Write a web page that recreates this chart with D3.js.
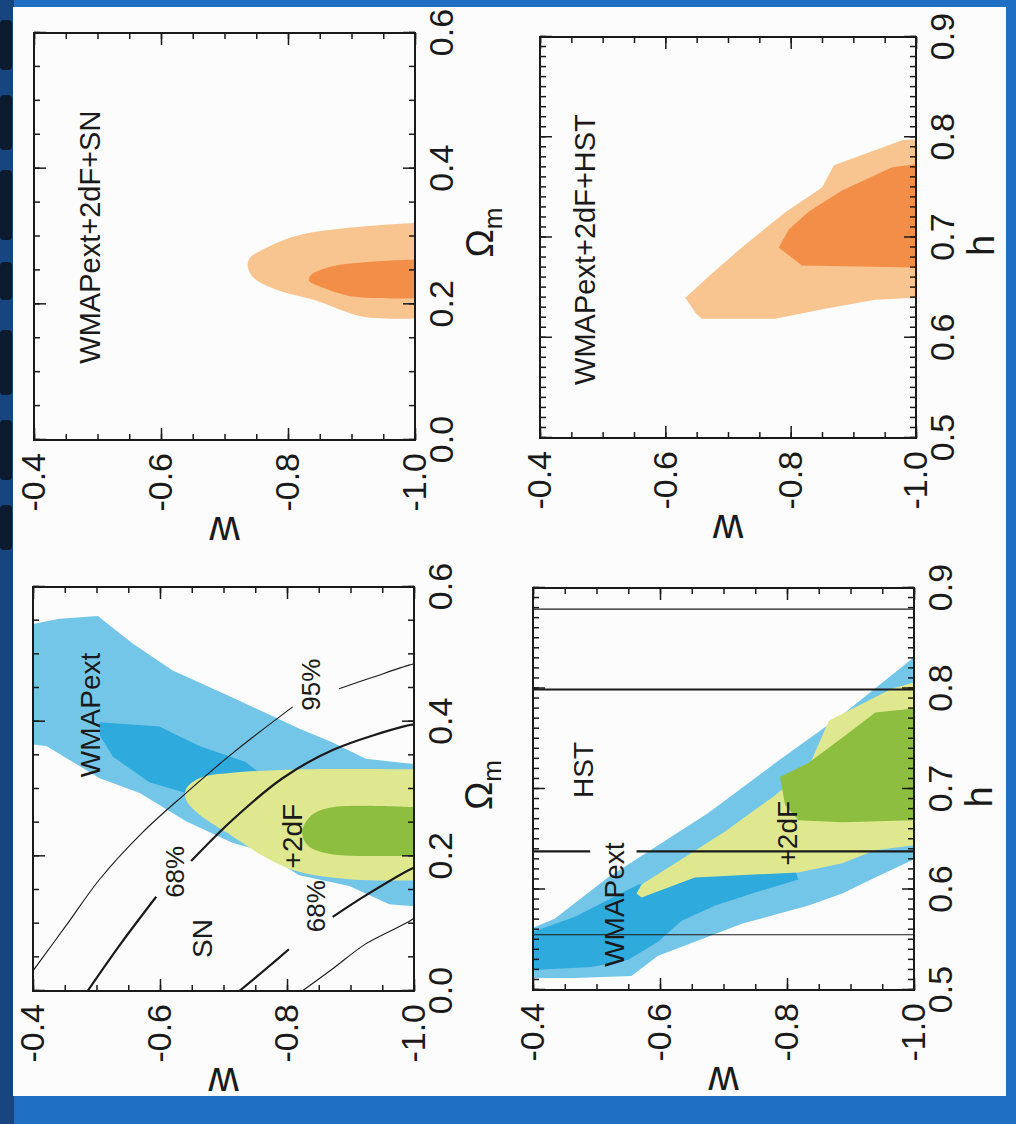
<!DOCTYPE html>
<html lang="en">
<head>
  <meta charset="UTF-8">
  <title>w constraints: WMAPext, 2dF, SN, HST</title>
  <script src="https://d3js.org/d3.v7.min.js"></script>
  <style>
    body { margin: 0; background: #ffffff; }
    svg text { font-family: "Liberation Sans", Arial, Helvetica, sans-serif; fill: #1a1a1a; }
  </style>
</head>
<body>
  <svg id="chart" width="1016" height="1124"></svg>
  <script>
    // ---- data: [x, w] with x = Omega_m or h ----
    const omAxisMajor = [0, 0.2, 0.4, 0.6];
    const hAxisMajor = [0.5, 0.6, 0.7, 0.8, 0.9];
    const wAxisMajor = [-0.4, -0.6, -0.8, -1.0];

    // WMAPext+2dF+SN (orange)
    const combSN95 = [[0.320, -1.0], [0.315, -0.922], [0.302, -0.817], [0.283, -0.765], [0.267, -0.739], [0.254, -0.737], [0.238, -0.747], [0.222, -0.781], [0.206, -0.843], [0.182, -0.917], [0.179, -1.0]];
    const combSN68 = [[0.266, -1.0], [0.262, -0.922], [0.256, -0.870], [0.243, -0.836], [0.235, -0.833], [0.225, -0.854], [0.211, -0.906], [0.209, -1.0]];

    // WMAPext+2dF+HST (orange)
    const combHST95 = [[0.798, -1.0], [0.797, -0.978], [0.772, -0.869], [0.750, -0.850], [0.725, -0.791], [0.690, -0.722], [0.661, -0.669], [0.640, -0.632], [0.625, -0.648], [0.619, -0.658], [0.619, -0.775], [0.629, -0.855], [0.638, -0.935], [0.640, -1.0]];
    const combHST68 = [[0.773, -1.0], [0.770, -0.962], [0.747, -0.882], [0.726, -0.829], [0.708, -0.797], [0.690, -0.781], [0.672, -0.818], [0.670, -1.0]];

    // WMAPext and +2dF in the Omega_m plane
    const wmapOm95 = [[0.545, -0.400], [0.553, -0.442], [0.557, -0.502], [0.516, -0.557], [0.476, -0.620], [0.436, -0.714], [0.390, -0.819], [0.369, -0.872], [0.345, -0.924], [0.337, -1.0], [0.126, -1.0], [0.129, -0.961], [0.156, -0.898], [0.172, -0.819], [0.209, -0.756], [0.220, -0.714], [0.252, -0.641], [0.294, -0.568], [0.316, -0.505], [0.364, -0.421], [0.366, -0.400]];
    const wmapOm68 = [[0.399, -0.505], [0.393, -0.599], [0.364, -0.662], [0.340, -0.735], [0.316, -0.767], [0.289, -0.714], [0.294, -0.641], [0.310, -0.583], [0.348, -0.526], [0.380, -0.505]];
    const tdfOm95 = [[0.329, -1.0], [0.329, -0.819], [0.324, -0.714], [0.316, -0.662], [0.300, -0.641], [0.284, -0.641], [0.262, -0.662], [0.230, -0.714], [0.198, -0.767], [0.177, -0.819], [0.166, -0.898], [0.164, -1.0]];
    const tdfOm68 = [[0.273, -1.0], [0.273, -0.872], [0.262, -0.840], [0.238, -0.824], [0.217, -0.832], [0.204, -0.866], [0.201, -1.0]];

    // SN contours, split where the labels sit
    const sn95UpperA = [[0.030, -0.400], [0.097, -0.452], [0.166, -0.505], [0.236, -0.573], [0.294, -0.641], [0.353, -0.714], [0.422, -0.809]];
    const sn95UpperB = [[0.449, -0.882], [0.466, -0.935], [0.484, -0.992], [0.486, -1.0]];
    const sn68UpperA = [[0.0, -0.486], [0.070, -0.538], [0.140, -0.594]];
    const sn68UpperB = [[0.193, -0.649], [0.254, -0.714], [0.316, -0.793], [0.358, -0.872], [0.393, -0.984], [0.396, -1.0]];
    const sn68LowerA = [[0.0, -0.725], [0.033, -0.767], [0.062, -0.803]];
    const sn68LowerB = [[0.110, -0.872], [0.142, -0.924], [0.182, -0.997], [0.183, -1.0]];
    const sn95Lower = [[0.0, -0.824], [0.033, -0.872], [0.070, -0.924], [0.102, -0.990], [0.108, -1.0]];

    // WMAPext and +2dF in the h plane
    const wmapH95 = [[0.562, -0.400], [0.571, -0.434], [0.612, -0.518], [0.644, -0.597], [0.676, -0.676], [0.726, -0.782], [0.774, -0.887], [0.831, -1.0], [0.630, -1.0], [0.612, -0.939], [0.596, -0.887], [0.584, -0.834], [0.566, -0.729], [0.548, -0.655], [0.534, -0.597], [0.514, -0.555], [0.512, -0.466], [0.512, -0.400]];
    const wmapH68 = [[0.558, -0.400], [0.573, -0.466], [0.605, -0.566], [0.619, -0.676], [0.619, -0.813], [0.610, -0.818], [0.598, -0.755], [0.584, -0.687], [0.569, -0.634], [0.548, -0.597], [0.530, -0.550], [0.523, -0.492], [0.520, -0.400]];
    const tdfH95 = [[0.596, -0.563], [0.605, -0.571], [0.630, -0.634], [0.658, -0.703], [0.694, -0.782], [0.722, -0.834], [0.768, -0.866], [0.783, -0.913], [0.800, -0.966], [0.806, -1.0], [0.644, -1.0], [0.639, -0.939], [0.626, -0.887], [0.617, -0.818], [0.612, -0.655], [0.592, -0.571]];
    const tdfH68 = [[0.712, -0.789], [0.726, -0.834], [0.751, -0.887], [0.776, -0.939], [0.780, -1.0], [0.669, -1.0], [0.667, -0.887], [0.669, -0.818], [0.684, -0.797]];

    // HST limits on h (68% and 95%), and the w range where the label cuts one line
    const hstLevels = [0.555, 0.638, 0.799, 0.879];
    const hstConf = ["95%", "68%", "68%", "95%"];
    const hstGap = [-0.49, -0.563];

    const colors = {
      orangeLight: "#f8c48f", orangeDark: "#f38e48",
      blueLight: "#74c6e8", blueDark: "#2eaadc",
      yellow: "#dfe88f", green: "#8dbe3f", ink: "#1a1a1a"
    };

    const svg = d3.select("#chart");

    // scanned page: blue surround, white sheet, bits of the cut-off heading on the left
    svg.append("rect").attr("width", 1016).attr("height", 1124).attr("fill", "#1f6fc4");
    svg.append("rect").attr("width", 14).attr("height", 1124).attr("fill", "#17457f");
    [[20, 70], [95, 150], [170, 240], [262, 300], [330, 395], [420, 480], [505, 550]].forEach(s => {
      svg.append("rect").attr("x", 0).attr("y", s[0]).attr("width", 12).attr("height", s[1] - s[0])
        .attr("rx", 4).attr("fill", "#0c1a30");
    });
    svg.append("rect").attr("x", 13).attr("y", 7).attr("width", 993).attr("height", 1089).attr("fill", "#fcfcfc");

    const fmt = d => d.toFixed(1);
    let clipCount = 0;

    // each panel is drawn upright and turned -90 degrees, like the scan
    function drawPanel(box, cfg) {
      const W = box.B - box.T;
      const H = box.R - box.L;
      const x = d3.scaleLinear().domain(cfg.xDomain).range([0, W]);
      const y = d3.scaleLinear().domain([-1, -0.4]).range([H, 0]);
      const g = svg.append("g").attr("transform", `translate(${box.L},${box.B}) rotate(-90)`);

      const clipId = "clip" + (clipCount++);
      g.append("clipPath").attr("id", clipId).append("rect").attr("width", W).attr("height", H);
      const plot = g.append("g").attr("clip-path", `url(#${clipId})`);

      const straight = d3.line().x(d => x(d[0])).y(d => y(d[1]));
      const smooth = d3.line().x(d => x(d[0])).y(d => y(d[1])).curve(d3.curveCatmullRom);

      cfg.areas.forEach(a => {
        plot.append("path")
          .attr("d", (a.smooth ? smooth(a.pts) : straight(a.pts)) + "Z")
          .attr("fill", a.fill);
      });

      (cfg.curves || []).forEach(c => {
        plot.append("path")
          .attr("d", smooth(c.pts))
          .attr("fill", "none")
          .attr("stroke", colors.ink)
          .attr("stroke-width", c.thick ? 2.2 : 1.1);
      });

      (cfg.hLines || []).forEach(l => {
        plot.append("line")
          .attr("x1", x(l.h)).attr("x2", x(l.h))
          .attr("y1", y(l.w0)).attr("y2", y(l.w1))
          .attr("stroke", colors.ink)
          .attr("stroke-width", l.thick ? 2.2 : 1.1);
      });

      cfg.labels.forEach(t => {
        g.append("text")
          .attr("x", x(t.at[0])).attr("y", y(t.at[1]))
          .attr("text-anchor", "middle")
          .attr("dominant-baseline", "central")
          .attr("font-size", t.size)
          .text(t.text);
      });

      // ticks on all four sides, labels on bottom and left
      const styleAxis = sel => {
        sel.attr("font-size", 34).attr("font-family", "Liberation Sans, Arial, sans-serif");
        sel.select(".domain").remove();
        sel.selectAll("line").attr("stroke", colors.ink).attr("stroke-width", 1.5);
        sel.selectAll("text").attr("fill", colors.ink);
      };
      const wMinor = d3.range(-1.0, -0.399, 0.05);
      const xMinor = d3.range(cfg.xDomain[0], cfg.xDomain[1] + 1e-9, cfg.xMinorStep);

      g.append("g").attr("transform", `translate(0,${H})`)
        .call(d3.axisBottom(x).tickValues(xMinor).tickSize(-6).tickSizeOuter(0).tickFormat("")).call(styleAxis);
      g.append("g").attr("transform", `translate(0,${H})`)
        .call(d3.axisBottom(x).tickValues(cfg.xMajor).tickSize(-12).tickSizeOuter(0).tickPadding(14).tickFormat(fmt)).call(styleAxis);
      g.append("g")
        .call(d3.axisTop(x).tickValues(xMinor).tickSize(-6).tickSizeOuter(0).tickFormat("")).call(styleAxis);
      g.append("g")
        .call(d3.axisTop(x).tickValues(cfg.xMajor).tickSize(-12).tickSizeOuter(0).tickFormat("")).call(styleAxis);

      g.append("g")
        .call(d3.axisLeft(y).tickValues(wMinor).tickSize(-6).tickSizeOuter(0).tickFormat("")).call(styleAxis);
      g.append("g")
        .call(d3.axisLeft(y).tickValues(wAxisMajor).tickSize(-12).tickSizeOuter(0).tickPadding(13).tickFormat(fmt)).call(styleAxis);
      g.append("g").attr("transform", `translate(${W},0)`)
        .call(d3.axisRight(y).tickValues(wMinor).tickSize(-6).tickSizeOuter(0).tickFormat("")).call(styleAxis);
      g.append("g").attr("transform", `translate(${W},0)`)
        .call(d3.axisRight(y).tickValues(wAxisMajor).tickSize(-12).tickSizeOuter(0).tickFormat("")).call(styleAxis);

      g.append("rect").attr("width", W).attr("height", H)
        .attr("fill", "none").attr("stroke", colors.ink).attr("stroke-width", 2);

      // axis titles
      const xt = g.append("text")
        .attr("x", W / 2 + cfg.titleShift).attr("y", H + 78)
        .attr("text-anchor", "middle")
        .attr("font-size", 38);
      if (cfg.xTitle === "Om") {
        xt.append("tspan").text("Ω");
        xt.append("tspan").attr("font-size", 26).attr("dy", 9).text("m");
      } else {
        xt.text("h");
      }
      g.append("text")
        .attr("transform", `translate(-88,${H / 2}) rotate(-90)`)
        .attr("text-anchor", "middle")
        .attr("dy", "0.26em")
        .attr("font-size", 42)
        .text("w");
    }

    const omCfg = { xDomain: [0, 0.6], xMajor: omAxisMajor, xMinorStep: 0.05, xTitle: "Om", titleShift: 4 };
    const hCfg = { xDomain: [0.5, 0.9], xMajor: hAxisMajor, xMinorStep: 0.01, xTitle: "h", titleShift: -8 };

    // top left: WMAPext+2dF+SN
    drawPanel({ L: 34, T: 33, R: 415, B: 440 }, Object.assign({}, omCfg, {
      areas: [
        { pts: combSN95, fill: colors.orangeLight, smooth: true },
        { pts: combSN68, fill: colors.orangeDark, smooth: true }
      ],
      labels: [{ text: "WMAPext+2dF+SN", at: [0.299, -0.488], size: 29 }]
    }));

    // top right: WMAPext+2dF+HST
    drawPanel({ L: 540, T: 37, R: 916, B: 438 }, Object.assign({}, hCfg, {
      areas: [
        { pts: combHST95, fill: colors.orangeLight },
        { pts: combHST68, fill: colors.orangeDark }
      ],
      labels: [{ text: "WMAPext+2dF+HST", at: [0.688, -0.472], size: 29 }]
    }));

    // bottom left: WMAPext, +2dF and SN contours
    drawPanel({ L: 33, T: 587, R: 414, B: 991 }, Object.assign({}, omCfg, {
      areas: [
        { pts: wmapOm95, fill: colors.blueLight },
        { pts: wmapOm68, fill: colors.blueDark },
        { pts: tdfOm95, fill: colors.yellow, smooth: true },
        { pts: tdfOm68, fill: colors.green, smooth: true }
      ],
      curves: [
        { pts: sn95UpperA }, { pts: sn95UpperB },
        { pts: sn68UpperA, thick: true }, { pts: sn68UpperB, thick: true },
        { pts: sn68LowerA, thick: true }, { pts: sn68LowerB, thick: true },
        { pts: sn95Lower }
      ],
      labels: [
        { text: "WMAPext", at: [0.41, -0.49], size: 28 },
        { text: "95%", at: [0.455, -0.838], size: 26 },
        { text: "68%", at: [0.177, -0.623], size: 26 },
        { text: "+2dF", at: [0.230, -0.809], size: 28 },
        { text: "SN", at: [0.078, -0.667], size: 28 },
        { text: "68%", at: [0.126, -0.845], size: 26 }
      ]
    }));

    // bottom right: WMAPext, +2dF and HST limits
    const hLines = [];
    hstLevels.forEach((h, i) => {
      const thick = hstConf[i] === "68%";
      if (i === 1) {
        hLines.push({ h, w0: -0.4, w1: hstGap[0], thick });
        hLines.push({ h, w0: hstGap[1], w1: -1.0, thick });
      } else {
        hLines.push({ h, w0: -0.4, w1: -1.0, thick });
      }
    });
    drawPanel({ L: 533, T: 588, R: 914, B: 990 }, Object.assign({}, hCfg, {
      areas: [
        { pts: wmapH95, fill: colors.blueLight },
        { pts: wmapH68, fill: colors.blueDark },
        { pts: tdfH95, fill: colors.yellow },
        { pts: tdfH68, fill: colors.green }
      ],
      hLines: hLines,
      labels: [
        { text: "HST", at: [0.719, -0.479], size: 28 },
        { text: "WMAPext", at: [0.585, -0.528], size: 28 },
        { text: "+2dF", at: [0.656, -0.800], size: 28 }
      ]
    }));
  </script>
</body>
</html>
